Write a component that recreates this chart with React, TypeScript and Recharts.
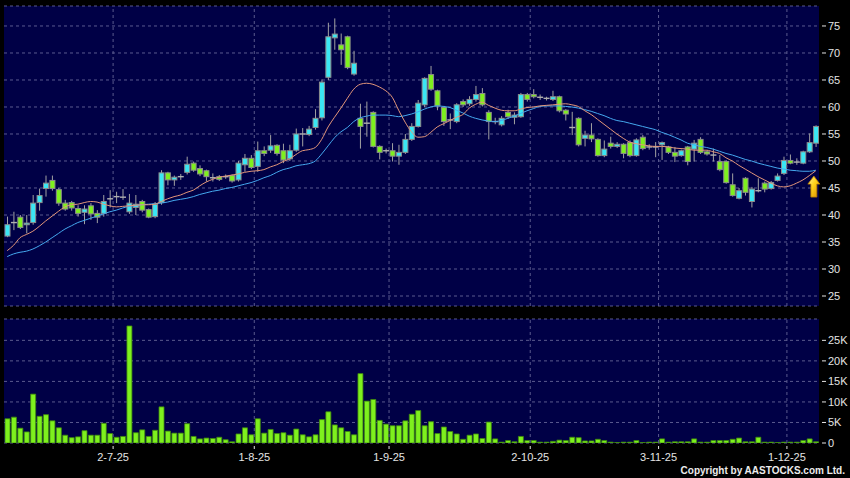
import {
  Bar,
  CartesianGrid,
  ComposedChart,
  Line,
  ReferenceDot,
  ReferenceLine,
  XAxis,
  YAxis,
} from "recharts";

// daily OHLC (HK$)
const opens = [
  36.1, 38.6, 39.6, 38.2, 38.6, 42.3, 44.9, 46.4, 44.7, 42.2,
  42.3, 41.2, 40.5, 41.7, 40.3, 40.3, 43.0, 43.4, 43.3, 40.6,
  41.4, 42.5, 41.0, 39.7, 42.3, 47.8, 46.5, 47.1, 47.9, 49.6,
  48.6, 48.2, 46.9, 47.1, 47.1, 47.3, 46.5, 49.3, 50.5, 49.0,
  51.9, 52.0, 52.9, 51.9, 50.4, 52.0, 55.0, 54.9, 56.2, 58.0,
  65.5, 72.8, 71.5, 73.0, 66.1, 57.9, 57.0, 59.0, 52.7, 51.9,
  51.9, 50.9, 51.6, 54.0, 56.4, 60.4, 66.0, 63.0, 59.9, 57.6,
  57.3, 61.0, 60.6, 61.4, 62.5, 59.0, 57.3, 56.7, 59.0, 58.1,
  58.2, 62.3, 62.3, 61.8, 61.6, 61.4, 61.9, 59.4, 56.2, 57.9,
  54.2, 54.8, 54.0, 51.0, 53.3, 52.7, 53.1, 53.4, 51.0, 54.4,
  52.6, 52.6, 53.0, 52.6, 51.6, 51.0, 52.6, 52.2, 54.0, 51.7,
  51.1, 49.9, 49.9, 45.6, 43.1, 46.8, 42.5, 44.5, 45.9, 44.9,
  46.4, 47.7, 50.1, 49.8, 49.6, 51.7, 53.3,
];
const highs = [
  39.7, 40.6, 40.0, 40.0, 43.7, 44.9, 47.3, 47.3, 45.0, 42.8,
  42.6, 41.8, 41.8, 42.2, 40.9, 43.7, 44.6, 44.3, 44.8, 43.9,
  43.7, 42.8, 41.2, 42.4, 48.3, 48.0, 47.3, 47.6, 50.8, 49.9,
  49.2, 48.4, 47.7, 47.4, 47.5, 47.5, 50.0, 51.3, 51.1, 53.6,
  52.7, 54.8, 53.1, 53.2, 53.0, 56.0, 56.1, 56.5, 59.6, 65.1,
  75.6, 76.4, 73.6, 73.2, 70.4, 60.6, 61.0, 59.2, 52.9, 52.3,
  53.3, 53.0, 55.0, 57.0, 61.3, 65.5, 67.6, 63.2, 60.2, 58.8,
  60.7, 61.4, 62.0, 63.9, 63.5, 59.4, 58.0, 58.3, 59.5, 59.0,
  62.6, 62.6, 63.3, 62.3, 61.9, 63.0, 62.1, 59.6, 59.1, 58.1,
  55.6, 57.0, 54.2, 53.8, 54.5, 53.5, 53.3, 53.8, 54.2, 54.8,
  53.1, 53.5, 53.6, 52.8, 52.6, 52.1, 52.8, 53.9, 54.4, 52.0,
  52.3, 51.1, 50.1, 47.7, 45.0, 47.0, 45.2, 46.8, 46.2, 46.3,
  47.7, 50.8, 51.2, 50.5, 51.9, 55.1, 56.6,
];
const lows = [
  35.9, 37.2, 37.4, 36.6, 38.2, 40.8, 43.4, 44.5, 41.7, 40.8,
  40.8, 39.7, 38.3, 39.1, 38.5, 39.7, 41.4, 42.2, 42.8, 40.2,
  40.0, 40.5, 39.4, 39.4, 41.9, 45.5, 45.4, 46.5, 47.5, 48.0,
  47.2, 46.2, 46.2, 46.3, 46.7, 46.0, 46.2, 48.0, 48.5, 48.0,
  50.9, 51.5, 51.0, 49.6, 50.0, 51.7, 52.7, 54.6, 55.8, 57.5,
  65.0, 70.6, 67.8, 67.0, 65.8, 52.3, 54.5, 52.5, 50.3, 51.4,
  49.9, 49.3, 51.3, 53.7, 56.2, 60.0, 63.0, 59.4, 56.5, 55.9,
  57.0, 60.0, 60.2, 61.0, 60.1, 54.0, 56.8, 56.4, 57.8, 56.8,
  58.0, 61.0, 61.6, 61.3, 61.2, 61.1, 59.0, 57.5, 54.8, 52.7,
  52.7, 53.5, 50.8, 50.7, 52.3, 52.4, 50.5, 50.7, 50.8, 52.0,
  52.1, 50.7, 50.2, 51.3, 49.8, 50.8, 49.2, 49.9, 51.3, 51.0,
  49.9, 48.1, 45.8, 43.4, 42.9, 43.6, 41.4, 44.2, 44.2, 44.7,
  46.2, 47.4, 49.4, 49.3, 49.4, 51.5, 52.6,
];
const closes = [
  38.2, 38.6, 37.7, 38.5, 42.2, 43.6, 45.9, 44.9, 42.2, 41.1,
  41.3, 40.3, 41.1, 40.2, 39.6, 42.5, 43.0, 43.4, 43.3, 42.2,
  42.0, 40.9, 39.6, 42.0, 47.8, 46.5, 47.0, 47.1, 49.4, 48.3,
  47.6, 47.1, 46.9, 46.6, 47.1, 46.3, 49.6, 50.5, 48.8, 51.9,
  51.4, 52.8, 51.4, 50.2, 51.9, 55.0, 55.0, 55.9, 57.9, 64.6,
  73.0, 73.5, 70.6, 67.3, 68.1, 56.4, 57.0, 52.7, 51.6, 51.9,
  50.9, 51.6, 54.0, 56.4, 60.7, 65.3, 63.3, 60.2, 57.3, 57.6,
  60.4, 60.4, 61.4, 62.3, 60.4, 57.3, 57.3, 57.9, 58.2, 58.5,
  62.3, 61.4, 61.9, 61.8, 61.6, 61.9, 59.3, 58.7, 56.2, 53.0,
  54.8, 54.1, 51.0, 52.2, 52.7, 53.1, 51.4, 51.0, 53.9, 52.3,
  52.6, 52.6, 53.4, 51.6, 50.9, 51.9, 49.9, 53.3, 51.6, 51.3,
  51.1, 48.4, 46.0, 43.6, 44.5, 44.2, 44.8, 44.5, 44.8, 46.0,
  47.2, 50.1, 49.6, 49.8, 51.7, 53.4, 56.4,
];
// volume, thousands of shares
const volumes = [
  5.9, 6.3, 3.6, 2.7, 11.9, 6.5, 6.9, 5.4, 3.7, 1.9,
  1.3, 1.5, 3.0, 1.9, 1.9, 4.8, 2.3, 1.4, 1.6, 28.5,
  2.5, 3.2, 1.6, 3.1, 8.8, 2.9, 2.4, 2.4, 4.7, 1.6,
  1.0, 1.2, 1.1, 1.4, 0.8, 0.3, 2.2, 3.7, 2.0, 5.9,
  2.4, 3.3, 2.3, 2.5, 1.9, 3.4, 2.0, 1.5, 2.0, 5.7,
  7.6, 4.4, 3.7, 2.8, 2.0, 16.9, 10.2, 10.6, 5.5, 4.6,
  4.2, 4.2, 5.4, 7.0, 7.9, 4.2, 5.2, 2.3, 3.9, 2.8,
  2.2, 0.9, 1.9, 2.2, 1.1, 5.1, 1.0, 0.2, 0.6, 0.3,
  1.6, 0.6, 0.6, 0.2, 0.2, 0.4, 0.7, 0.6, 1.4, 1.3,
  0.5, 0.5, 0.9, 0.6, 0.2, 0.1, 0.2, 0.2, 0.6, 0.1,
  0.2, 0.2, 1.0, 0.2, 0.3, 0.3, 0.3, 1.0, 0.2, 0.2,
  0.6, 0.6, 0.6, 0.9, 1.2, 0.3, 0.3, 1.4, 0.2, 0.2,
  0.1, 0.2, 0.2, 0.2, 0.6, 1.0, 0.3,
];
// moving averages as drawn (orange = short, blue = long)
const maShort = [
  33.4, 34.4, 35.8, 36.4, 37.0, 37.9, 38.9, 39.8, 40.7, 41.5,
  41.9, 42.0, 42.3, 42.5, 42.4, 42.0, 41.7, 41.5, 41.6, 41.7,
  41.8, 41.9, 41.9, 42.0, 42.5, 43.0, 43.4, 43.7, 44.2, 44.6,
  45.4, 46.1, 46.6, 47.0, 47.2, 47.4, 47.6, 47.9, 48.1, 48.2,
  48.4, 48.9, 49.3, 49.9, 50.4, 51.2, 51.9, 52.1, 52.5, 54.0,
  56.3, 58.1, 59.8, 61.6, 63.3, 64.2, 64.4, 64.2, 63.7, 63.0,
  61.8, 59.4, 57.2, 55.4, 54.4, 54.5, 55.3, 56.3, 56.9, 57.5,
  58.1, 58.6, 59.8, 60.5, 60.9, 60.3, 59.8, 59.4, 59.3, 59.3,
  59.6, 59.9, 60.0, 60.2, 60.3, 60.4, 60.5, 60.6, 60.4, 60.1,
  59.3, 58.6, 57.7, 56.8, 55.9, 55.0, 54.2, 53.5, 53.2, 53.0,
  52.8, 52.7, 52.7, 52.6, 52.4, 52.3, 52.2, 52.0, 52.0, 52.0,
  51.7, 51.4, 50.6, 50.0, 49.2, 48.5, 47.8, 47.1, 46.5, 45.9,
  45.4, 45.2, 45.4, 45.9, 46.5, 47.3, 48.2,
];
const maLong = [
  32.3, 32.8, 33.1, 33.3, 33.7, 34.3, 35.0, 35.8, 36.6, 37.4,
  38.0, 38.6, 39.0, 39.4, 39.8, 40.2, 40.6, 40.9, 41.3, 41.6,
  41.7, 41.9, 42.0, 42.1, 42.2, 42.4, 42.7, 42.9, 43.1, 43.4,
  43.8, 44.1, 44.4, 44.6, 44.9, 45.1, 45.4, 45.7, 46.0, 46.4,
  46.9, 47.3, 47.9, 48.4, 48.7, 49.1, 49.3, 49.5, 50.0, 51.3,
  52.8, 54.3, 55.4, 56.2, 57.3, 58.0, 58.3, 58.5, 58.5, 58.5,
  58.4, 58.2, 58.4, 58.7, 59.1, 59.6, 60.0, 60.2, 60.1, 59.9,
  59.4, 58.9, 58.3, 57.9, 57.6, 57.4, 57.3, 57.5, 57.9, 58.3,
  58.8, 59.3, 59.7, 60.1, 60.2, 60.2, 60.2, 60.1, 60.0, 59.8,
  59.5, 59.2, 58.8, 58.4, 57.9, 57.5, 57.3, 57.0, 56.7, 56.4,
  56.1, 55.8, 55.3, 54.9, 54.4, 53.9, 53.3, 53.0, 52.7, 52.5,
  52.2, 51.8, 51.4, 51.1, 50.7, 50.3, 50.0, 49.6, 49.3, 49.0,
  48.7, 48.5, 48.3, 48.2, 48.1, 48.1, 48.3,
];

// index of first trading day of each month shown on the axis
const monthStarts = [17, 39, 60, 82, 102, 122];
const monthLabels = ["2-7-25", "1-8-25", "1-9-25", "2-10-25", "3-11-25", "1-12-25"];
const priceTicks = [25, 30, 35, 40, 45, 50, 55, 60, 65, 70, 75];
const volumeTicks = [0, 5, 10, 15, 20, 25];

const BG = "#000046";
const GRID = "#5a5a8e";
const TEXT = "#e4e4e4";
const UP = "#3ae6f4";
const DOWN = "#7ef01e";
const FONT = "'Liberation Sans', Arial, sans-serif";

const rows = opens.map((open, i) => ({
  i,
  open,
  high: highs[i],
  low: lows[i],
  close: closes[i],
  range: [lows[i], highs[i]],
  maShort: maShort[i],
  maLong: maLong[i],
  vol: volumes[i],
}));
const domainX: [number, number] = [-0.5, opens.length - 0.5];
const gridX = monthStarts.map((m) => m - 0.5);

function Candle(props: any) {
  const { x, y, width, height, payload } = props;
  if (!payload) return null;
  const { open, close, high, low } = payload;
  const top = Math.min(y, y + height);
  const span = Math.abs(height);
  const toY = (v: number) => top + ((high - v) / (high - low)) * span;
  const cx = x + width / 2;
  const yo = toY(open);
  const yc = toY(close);
  const wick = <line x1={cx} x2={cx} y1={toY(high)} y2={toY(low)} stroke="#a2a2a2" strokeWidth={1} />;
  if (open === close) {
    return (
      <g>
        {wick}
        <line x1={x - 0.5} x2={x + width + 0.5} y1={yo} y2={yo} stroke="#b0b0b0" strokeWidth={1.4} />
      </g>
    );
  }
  const bodyTop = Math.min(yo, yc);
  return (
    <g>
      {wick}
      <rect
        x={x}
        y={bodyTop}
        width={width}
        height={Math.max(1, Math.abs(yc - yo))}
        fill={close > open ? UP : DOWN}
        stroke="#8c8c8c"
        strokeWidth={1}
      />
    </g>
  );
}

function Arrow(props: any) {
  const { cx, cy } = props;
  const d = `M${cx},${cy} L${cx + 6},${cy + 8} L${cx + 3},${cy + 8} L${cx + 3},${cy + 21} L${cx - 3},${cy + 21} L${cx - 3},${cy + 8} L${cx - 6},${cy + 8} Z`;
  return (
    <g>
      <defs>
        <linearGradient id="arrowFill" x1="0" y1="0" x2="1" y2="1">
          <stop offset="0%" stopColor="#fff6a0" />
          <stop offset="45%" stopColor="#ffd21a" />
          <stop offset="100%" stopColor="#d98a00" />
        </linearGradient>
      </defs>
      <path d={d} fill="url(#arrowFill)" stroke="#b67800" strokeWidth={0.8} />
    </g>
  );
}

function RightTick(props: any) {
  const { x, y, payload, suffix } = props;
  const v = payload.value;
  const label = suffix && v !== 0 ? `${v}${suffix}` : `${v}`;
  return (
    <g>
      <line x1={x + 3} x2={x + 7} y1={y} y2={y} stroke={TEXT} strokeWidth={1} />
      <text x={x + 9} y={y + 4} fill={TEXT} fontSize={11} fontFamily={FONT}>
        {label}
      </text>
    </g>
  );
}

function DateTick(props: any) {
  const { x, y, payload } = props;
  const idx = gridX.indexOf(payload.value);
  return (
    <g>
      <line x1={x} x2={x} y1={y + 3} y2={y + 6} stroke={TEXT} strokeWidth={1} />
      <text x={x} y={y + 18} textAnchor="middle" fill={TEXT} fontSize={11} fontFamily={FONT}>
        {monthLabels[idx] ?? ""}
      </text>
    </g>
  );
}

export default function App() {
  const last = opens.length - 1;
  return (
    <div
      style={{
        position: "absolute",
        left: 0,
        top: 0,
        width: 850,
        height: 478,
        background: "#000",
        fontFamily: FONT,
        overflow: "hidden",
      }}
    >
      <div style={{ position: "absolute", left: 0, top: 0 }}>
        <ComposedChart width={850} height={310} data={rows} margin={{ top: 6, right: 0, bottom: 4, left: 4 }}>
          <CartesianGrid vertical={false} stroke={GRID} strokeDasharray="3 3" fill={BG} fillOpacity={1} />
          <XAxis type="number" dataKey="i" domain={domainX} hide allowDataOverflow />
          <YAxis
            orientation="right"
            domain={[23.15, 78.7]}
            ticks={priceTicks}
            interval={0}
            width={31}
            axisLine={false}
            tickLine={false}
            tickSize={0}
            tickMargin={0}
            tick={<RightTick />}
            allowDataOverflow
          />
          {gridX.map((gx) => (
            <ReferenceLine key={gx} x={gx} stroke={GRID} strokeDasharray="3 3" />
          ))}
          <Bar dataKey="range" barSize={5} shape={Candle} isAnimationActive={false} />
          <Line type="monotone" dataKey="maLong" stroke="#45a8ee" strokeWidth={1} dot={false} activeDot={false} isAnimationActive={false} />
          <Line type="monotone" dataKey="maShort" stroke="#e3967a" strokeWidth={1} dot={false} activeDot={false} isAnimationActive={false} />
          <ReferenceDot x={last - 0.3} y={47.2} r={1} shape={Arrow} />
        </ComposedChart>
      </div>
      <div style={{ position: "absolute", left: 0, top: 310 }}>
        <ComposedChart width={850} height={168} data={rows} margin={{ top: 9, right: 0, bottom: 0, left: 4 }}>
          <CartesianGrid vertical={false} stroke={GRID} strokeDasharray="3 3" fill={BG} fillOpacity={1} />
          <XAxis
            type="number"
            dataKey="i"
            domain={domainX}
            ticks={gridX}
            interval={0}
            height={35}
            axisLine={false}
            tickLine={false}
            tickSize={0}
            tickMargin={0}
            tick={<DateTick />}
            allowDataOverflow
          />
          <YAxis
            orientation="right"
            domain={[0, 30.2]}
            ticks={volumeTicks}
            interval={0}
            width={31}
            axisLine={false}
            tickLine={false}
            tickSize={0}
            tickMargin={0}
            tick={<RightTick suffix="K" />}
            allowDataOverflow
          />
          {gridX.map((gx) => (
            <ReferenceLine key={gx} x={gx} stroke={GRID} strokeDasharray="3 3" />
          ))}
          <Bar dataKey="vol" barSize={5} fill={DOWN} stroke="#3f8a0c" strokeWidth={0.8} isAnimationActive={false} />
        </ComposedChart>
      </div>
      <div
        style={{
          position: "absolute",
          right: 5,
          top: 465,
          color: "#ececec",
          fontSize: 10,
          fontWeight: "bold",
          fontFamily: FONT,
          lineHeight: "12px",
        }}
      >
        Copyright by AASTOCKS.com Ltd.
      </div>
    </div>
  );
}
